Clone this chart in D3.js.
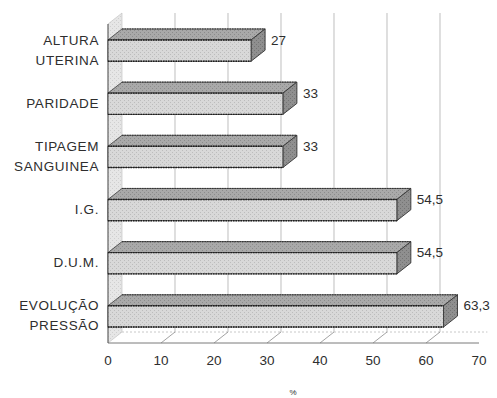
<!DOCTYPE html>
<html>
<head>
<meta charset="utf-8">
<script src="https://cdn.jsdelivr.net/npm/d3@7"></script>
<style>
  html, body { margin: 0; padding: 0; background: #fff; }
  svg { display: block; }
  text { font-family: "Liberation Sans", Arial, sans-serif; fill: #2e2e2e; }
</style>
</head>
<body>
<svg id="chart" width="497" height="398"></svg>
<script>
// Categories (top to bottom), each label split into its printed lines
const categories = ["ALTURA UTERINA", "PARIDADE", "TIPAGEM SANGUINEA", "I.G.", "D.U.M.", "EVOLUÇÃO PRESSÃO"];
const categoryLines = [["ALTURA", "UTERINA"], ["PARIDADE"], ["TIPAGEM", "SANGUINEA"], ["I.G."], ["D.U.M."], ["EVOLUÇÃO", "PRESSÃO"]];
const values = [27, 33, 33, 54.5, 54.5, 63.3];
const ticks = [0, 10, 20, 30, 40, 50, 60, 70];
const axisTitle = "%";

const svg = d3.select("#chart");

// front plane of the 3D box and the depth offset of the back wall
const front = { left: 108, right: 479, top: 24, bottom: 343 };
const depth = { dx: 14, dy: -11 };

const x = d3.scaleLinear().domain([0, 70]).range([front.left, front.right]);
const y = d3.scaleBand().domain(categories)
  .range([front.top, front.bottom]).paddingInner(0.6).paddingOuter(0.3);

// stipple textures
const defs = svg.append("defs");
function stipple(id, base, dot) {
  const p = defs.append("pattern").attr("id", id).attr("patternUnits", "userSpaceOnUse")
    .attr("width", 4).attr("height", 4);
  p.append("rect").attr("width", 4).attr("height", 4).attr("fill", base);
  p.append("rect").attr("x", 0).attr("y", 0).attr("width", 1).attr("height", 1).attr("fill", dot);
  p.append("rect").attr("x", 2).attr("y", 2).attr("width", 1).attr("height", 1).attr("fill", dot);
}
stipple("texFront", "#d8d8d8", "#bcbcbc");
stipple("texTop", "#a9a9a9", "#8c8c8c");
stipple("texSide", "#8f8f8f", "#747474");
stipple("texWall", "#e6e6e6", "#cfcfcf");

const pts = a => a.map(p => p.join(",")).join(" ");

// back wall grid lines
const backTop = front.top + depth.dy, backBottom = front.bottom + depth.dy;
svg.append("g").selectAll("line").data(ticks.filter(t => t > 0 && t < 70)).join("line")
  .attr("x1", d => x(d) + depth.dx).attr("x2", d => x(d) + depth.dx)
  .attr("y1", backTop).attr("y2", backBottom)
  .attr("stroke", "#c9c9c9").attr("stroke-width", 1.2);

// left wall
svg.append("polygon")
  .attr("points", pts([[x(0), front.top], [x(0) + depth.dx, backTop], [x(0) + depth.dx, backBottom], [x(0), front.bottom]]))
  .attr("fill", "url(#texWall)").attr("stroke", "#bdbdbd").attr("stroke-width", 0.6);

// floor: back edge, slanted tick marks and front axis line
svg.append("line").attr("x1", x(0) + depth.dx).attr("x2", x(70) + depth.dx * 0.6)
  .attr("y1", backBottom).attr("y2", backBottom)
  .attr("stroke", "#c8c8c8").attr("stroke-dasharray", "2,2");
svg.append("g").selectAll("line").data(ticks.filter(t => t > 0 && t < 70)).join("line")
  .attr("x1", d => x(d)).attr("y1", front.bottom)
  .attr("x2", d => x(d) + depth.dx).attr("y2", backBottom)
  .attr("stroke", "#8a8a8a").attr("stroke-width", 0.8);
svg.append("line").attr("x1", x(0)).attr("x2", x(70)).attr("y1", front.bottom).attr("y2", front.bottom)
  .attr("stroke", "#7a7a7a").attr("stroke-width", 1);
svg.append("line").attr("x1", x(0)).attr("x2", x(0)).attr("y1", front.top).attr("y2", front.bottom)
  .attr("stroke", "#555").attr("stroke-width", 1);

// bars
const bars = svg.append("g").selectAll("g").data(categories.map((c, i) => ({ c, v: values[i] }))).join("g");
bars.each(function (d) {
  const g = d3.select(this);
  const x0 = x(0), x1 = x(d.v), yT = y(d.c), yB = yT + y.bandwidth();
  const { dx, dy } = depth;
  g.append("polygon").attr("points", pts([[x0, yT], [x0 + dx, yT + dy], [x1 + dx, yT + dy], [x1, yT]]))
    .attr("fill", "url(#texTop)").attr("stroke", "#3c3c3c").attr("stroke-width", 0.8);
  g.append("polygon").attr("points", pts([[x1, yT], [x1 + dx, yT + dy], [x1 + dx, yB + dy], [x1, yB]]))
    .attr("fill", "url(#texSide)").attr("stroke", "#333").attr("stroke-width", 0.9);
  g.append("rect").attr("x", x0).attr("y", yT).attr("width", x1 - x0).attr("height", yB - yT)
    .attr("fill", "url(#texFront)").attr("stroke", "#3a3a3a").attr("stroke-width", 0.9);
  // dotted edges along the long sides
  [yT, yB].forEach(yy => g.append("line").attr("x1", x0).attr("x2", x1).attr("y1", yy).attr("y2", yy)
    .attr("stroke", "#1e1e1e").attr("stroke-width", 1.4).attr("stroke-dasharray", "1.5,1"));
  g.append("line").attr("x1", x0 + dx).attr("x2", x1 + dx).attr("y1", yT + dy).attr("y2", yT + dy)
    .attr("stroke", "#333").attr("stroke-width", 1).attr("stroke-dasharray", "1.5,1");
  // value label
  g.append("text").attr("x", x1 + dx + 6).attr("y", yT + 1).attr("dominant-baseline", "middle")
    .attr("font-size", 13.5)
    .text(d3.format("~r")(d.v).replace(".", ","));
});

// category labels
const cat = svg.append("g").selectAll("text").data(categories).join("text")
  .attr("text-anchor", "end").attr("font-size", 13.5).attr("letter-spacing", 0.6)
  .attr("dominant-baseline", "middle");
cat.each(function (c, i) {
  const lines = categoryLines[i];
  const cy = y(c) + y.bandwidth() / 2;
  d3.select(this).selectAll("tspan").data(lines).join("tspan")
    .attr("x", 99).attr("y", (l, j) => cy + (j - (lines.length - 1) / 2) * 20).text(l => l);
});

// x tick labels
svg.append("g").selectAll("text").data(ticks).join("text")
  .attr("x", d => x(d)).attr("y", 361).attr("text-anchor", "middle").attr("dominant-baseline", "middle")
  .attr("font-size", 13.5).text(d => d);

// axis title
svg.append("text").attr("x", 293).attr("y", 393).attr("text-anchor", "middle")
  .attr("dominant-baseline", "middle").attr("font-size", 8).text(axisTitle);
</script>
</body>
</html>
